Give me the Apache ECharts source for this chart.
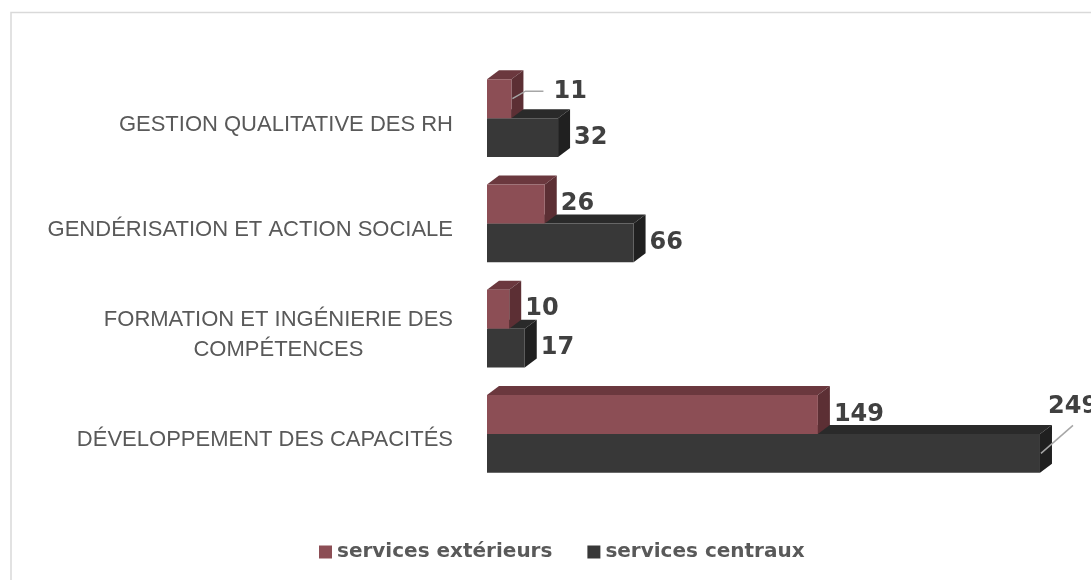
<!DOCTYPE html>
<html>
<head>
<meta charset="utf-8">
<script src="https://cdn.jsdelivr.net/npm/echarts@6/dist/echarts.min.js"></script>
<style>html,body{margin:0;padding:0;background:#fff;}#chart{width:1091px;height:580px;}</style>
</head>
<body>
<div id="chart"></div>
<script>
const categories = ['GESTION QUALITATIVE DES RH', 'GENDÉRISATION ET ACTION SOCIALE', 'FORMATION ET INGÉNIERIE DES\nCOMPÉTENCES', 'DÉVELOPPEMENT DES CAPACITÉS'];
const seriesNames = ['services extérieurs', 'services centraux'];
const servicesExterieurs = [11, 26, 10, 149];
const servicesCentraux = [32, 66, 17, 249];

const DX = 12, DY = 9;
const redColors = { front: '#8C4E55', top: '#6B383E', side: '#5C2F34' };
const darkColors = { front: '#383838', top: '#2A2A2A', side: '#202020' };
// label displacement (px) and leader lines (relative to label anchor)
const extLabelShift = [[26, -6.5], null, null, null];
const extLeader = [[[-28, -1], [-10, -1]], null, null, null];
const cenLabelShift = [null, null, null, [-8, -47]];
const cenLeader = [null, null, null, [[25, 19]]];

function makeRender(isTop, colors, shifts, leaders) {
  return function (params, api) {
    const cat = api.value(1), val = api.value(0);
    const p0 = api.coord([0, cat]);
    const p1 = api.coord([val, cat]);
    const band = api.size([0, 1])[1];
    const h = band * 0.37;
    const x = p0[0], w = p1[0] - p0[0];
    const y = isTop ? p0[1] - h : p0[1];
    const children = [
      { type: 'polygon', shape: { points: [[x, y], [x + DX, y - DY], [x + w + DX, y - DY], [x + w, y]] }, style: { fill: colors.top } },
      { type: 'polygon', shape: { points: [[x + w, y], [x + w + DX, y - DY], [x + w + DX, y + h - DY], [x + w, y + h]] }, style: { fill: colors.side } },
      { type: 'rect', shape: { x: x, y: y, width: w, height: h }, style: { fill: colors.front } }
    ];
    const sh = shifts[params.dataIndex] || [0, 0];
    const lx = x + w + DX + 4 + sh[0];
    const ly = y + h / 2 + sh[1];
    const ld = leaders[params.dataIndex];
    if (ld) {
      const pts = [[x + w + 1, y + h / 2]];
      ld.forEach(p => pts.push([lx + p[0], ly + p[1]]));
      children.push({ type: 'polyline', shape: { points: pts }, style: { stroke: '#A6A6A6', lineWidth: 1.5, fill: null } });
    }
    children.push({
      type: 'text', x: lx, y: ly,
      style: { text: String(val), fill: '#404040', fontFamily: 'DejaVu Sans', fontWeight: 'bold', fontSize: 24, align: 'left', verticalAlign: 'middle' }
    });
    return { type: 'group', children: children };
  };
}

const chart = echarts.init(document.getElementById('chart'), null, { renderer: 'canvas' });
chart.setOption({
  backgroundColor: '#ffffff',
  animation: false,
  graphic: [{
    type: 'rect', silent: true, z: -10,
    shape: { x: 11, y: 12.5, width: 1200, height: 700 },
    style: { fill: null, stroke: '#D9D9D9', lineWidth: 1.5 }
  }],
  grid: { left: 487, width: 555.2, top: 65.5, height: 421 },
  xAxis: { type: 'value', min: 0, max: 250, show: false },
  yAxis: {
    type: 'category', data: categories, inverse: true,
    axisLine: { show: false }, axisTick: { show: false }, splitLine: { show: false },
    axisLabel: {
      margin: 34,
      padding: [13, 0, 0, 0],
      formatter: function (v) { return v.split('\n').map(s => '{c|' + s + '}').join('\n'); },
      rich: { c: { align: 'center', fontFamily: 'Liberation Sans', fontSize: 22, color: '#595959', lineHeight: 30 } }
    }
  },
  legend: {
    data: seriesNames,
    left: 314, top: 537,
    itemWidth: 13, itemHeight: 13, itemGap: 35, icon: 'rect',
    textStyle: { fontFamily: 'DejaVu Sans', fontWeight: 'bold', fontSize: 20, color: '#595959' }
  },
  series: [
    {
      name: seriesNames[1], type: 'custom',
      itemStyle: { color: darkColors.front },
      encode: { x: 0, y: 1 },
      data: servicesCentraux.map((v, i) => [v, i]),
      renderItem: makeRender(false, darkColors, cenLabelShift, cenLeader)
    },
    {
      name: seriesNames[0], type: 'custom',
      itemStyle: { color: redColors.front },
      encode: { x: 0, y: 1 },
      data: servicesExterieurs.map((v, i) => [v, i]),
      renderItem: makeRender(true, redColors, extLabelShift, extLeader)
    }
  ]
});
</script>
</body>
</html>
